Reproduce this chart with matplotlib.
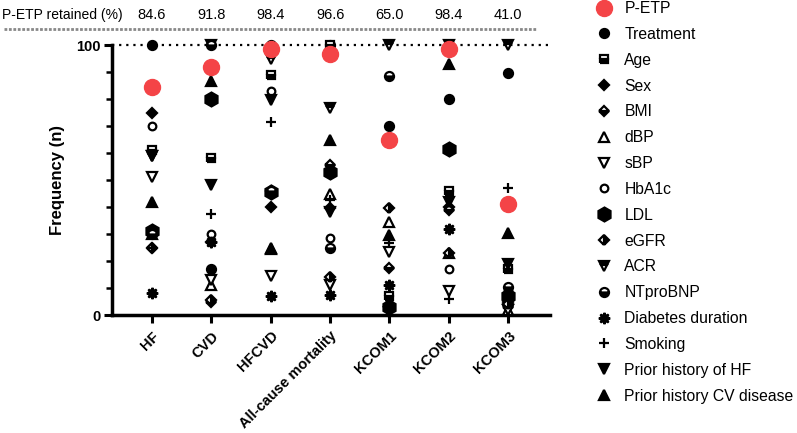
import numpy as np
import matplotlib
matplotlib.use('Agg')
import matplotlib.pyplot as plt
import matplotlib.transforms as mtransforms
from matplotlib.lines import Line2D

plt.rcParams['font.family'] = ['Liberation Sans', 'DejaVu Sans']

# Outcomes (x categories)
outcomes = ['HF', 'CVD', 'HFCVD', 'All-cause mortality', 'KCOM1', 'KCOM2', 'KCOM3']

# P-ETP retained (%)
p_etp = [84.6, 91.8, 98.4, 96.6, 65.0, 98.4, 41.0]

# Frequency (n) for each variable, one value per outcome
treatment = [100, 17, 100, 100, 70, 80, 89.5]
age = [61, 58, 89, 100, 7, 46, 17]
sex = [75, 27, 40, 39.5, 3, 40, 5]
bmi = [25, 5, 46, 55.5, 17.5, 39, 3]
dbp = [30, 11, 25, 45, 34.5, 23, 2]
sbp = [51, 13, 14.5, 11, 23.5, 9, 2]
hba1c = [70, 30, 83, 28.5, 4, 17, 9]
ldl = [31, 80, 45.5, 53, 3, 61.5, 7]
egfr = [25, 5.5, 46, 14, 39.5, 23, 4]
acr = [59, 100, 95, 76.5, 100, 100, 100]
ntprobnp = [30, 100, 46, 25, 88.5, 100, 10.5]
diabetes_duration = [8, 27, 7, 7.5, 11, 32, 7]
smoking = [25, 37.5, 71.5, 42.5, 26.5, 6, 47]
prior_hf = [59, 48, 79.5, 38, 1, 42, 19]
prior_cv = [42, 86.5, 24.5, 65, 29.5, 93, 30.5]

series = [
    ('Treatment', treatment, dict(marker='o', ms=6.5)),
    ('Age', age, dict(marker='s', ms=6, fillstyle='bottom')),
    ('Sex', sex, dict(marker='D', ms=5)),
    ('BMI', bmi, dict(marker='D', ms=5, fillstyle='bottom')),
    ('dBP', dbp, dict(marker='^', ms=7, mfc='white')),
    ('sBP', sbp, dict(marker='v', ms=7, mfc='white')),
    ('HbA1c', hba1c, dict(marker='o', ms=5.5, mfc='white')),
    ('LDL', ldl, dict(marker='h', ms=10)),
    ('eGFR', egfr, dict(marker='D', ms=5, fillstyle='right')),
    ('ACR', acr, dict(marker='v', ms=7, fillstyle='top')),
    ('NTproBNP', ntprobnp, dict(marker='o', ms=6.5, fillstyle='bottom')),
    ('Diabetes duration', diabetes_duration, dict(marker=(8, 1, 0), ms=8)),
    ('Smoking', smoking, dict(marker='+', ms=7)),
    ('Prior history of HF', prior_hf, dict(marker='v', ms=7)),
    ('Prior history CV disease', prior_cv, dict(marker='^', ms=7)),
]

red = '#f44447'

fig = plt.figure(figsize=(7.97, 4.33), dpi=100)
ax = fig.add_axes([0.1405, 0.2725, 0.5495, 0.6235])
x = np.arange(len(outcomes))

# dotted reference line at 100
ax.plot([-0.67, 6.7], [100, 100], color='black', linestyle=(0, (1, 2.2)), lw=1.6, zorder=1, clip_on=False)

handles = []
h = ax.plot(x, p_etp, linestyle='none', marker='o', ms=11.5, color=red, zorder=5, clip_on=False)[0]
handles.append((h, 'P-ETP'))
for name, vals, style in series:
    st = dict(style)
    st.setdefault('mfc', 'black')
    h = ax.plot(x, vals, linestyle='none', color='black', mec='black', mew=1.6,
                markerfacecoloralt='white', zorder=3, clip_on=False, **st)[0]
    handles.append((h, name))

ax.set_xlim(-0.67, 6.7)
ax.set_ylim(0, 100)
ax.set_yticks([0, 100])
ax.set_yticks(np.arange(0, 101, 10), minor=True)
ax.set_xticks(x)
ax.set_xticklabels(outcomes, rotation=45, ha='right', rotation_mode='anchor', fontweight='bold', fontsize=10.5)
for lbl in ax.get_yticklabels():
    lbl.set_fontweight('bold')
    lbl.set_fontsize(10.5)
ax.tick_params(axis='both', which='major', length=6, width=2.2)
ax.tick_params(axis='y', which='minor', length=4.5, width=1.8)
ax.tick_params(axis='y', pad=2)
ax.tick_params(axis='x', pad=4)
ax.set_ylabel('Frequency (n)', fontweight='bold', fontsize=12, labelpad=8)
for side in ['top', 'right']:
    ax.spines[side].set_visible(False)
for side in ['left', 'bottom']:
    ax.spines[side].set_linewidth(2.5)

# P-ETP retained row on top
trans = mtransforms.blended_transform_factory(ax.transData, fig.transFigure)
fig.text(0.002, 0.965, 'P-ETP retained (%)', fontsize=10, va='center', ha='left')
for xi, v in zip(x, p_etp):
    ax.text(xi, 0.965, f'{v:.1f}', transform=trans, fontsize=10.5, va='center', ha='center')
fig.add_artist(Line2D([0.005, 0.672], [0.932, 0.932], transform=fig.transFigure,
                      color='#888888', lw=2, linestyle=(0, (1, 0.6))))

leg = fig.legend([hh for hh, _ in handles], [n for _, n in handles], loc='upper left',
                 bbox_to_anchor=(0.738, 1.012), frameon=False, fontsize=11.3,
                 labelspacing=0.69, handlelength=1.2, handletextpad=0.7, borderaxespad=0)

fig.savefig('out.png', dpi=100)
